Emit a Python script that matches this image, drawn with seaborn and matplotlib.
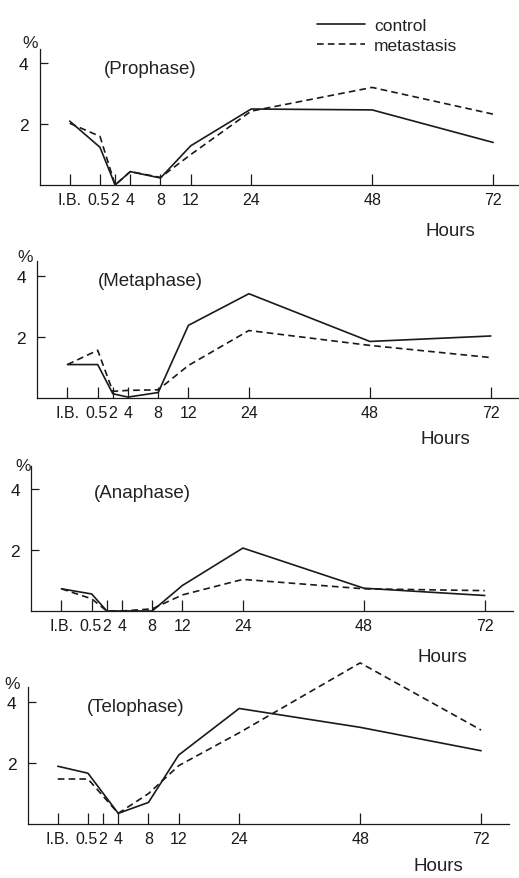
import matplotlib
matplotlib.use('Agg')
import matplotlib.pyplot as plt
import matplotlib.transforms as mtransforms
import numpy as np
import pandas as pd
import seaborn as sns

# Eje de horas con escala propia (I.B. antes de 0.5 h)
hour_labels = ['I.B.', '0.5', '2', '4', '8', '12', '24', '48', '72']
hour_pos = [-6, 0, 3, 6, 12, 18, 30, 54, 78]

phases = ['Prophase', 'Metaphase', 'Anaphase', 'Telophase']

prophase_control = [2.1, 1.24, 0.0, 0.44, 0.23, 1.29, 2.5, 2.47, 1.4]
prophase_metastasis = [2.03, 1.6, 0.0, 0.44, 0.25, 1.0, 2.43, 3.21, 2.33]

metaphase_control = [1.1, 1.1, 0.14, 0.03, 0.18, 2.39, 3.43, 1.86, 2.04]
metaphase_metastasis = [1.1, 1.57, 0.22, 0.25, 0.27, 1.07, 2.22, 1.73, 1.33]

anaphase_control = [0.73, 0.56, 0.0, 0.0, 0.0, 0.84, 2.07, 0.75, 0.51]
anaphase_metastasis = [0.73, 0.4, 0.0, 0.0, 0.07, 0.53, 1.04, 0.73, 0.67]

telophase_control = [1.9, 1.67, np.nan, 0.35, 0.71, 2.27, 3.8, 3.18, 2.41]
telophase_metastasis = [1.48, 1.48, np.nan, 0.35, 1.0, 1.92, 3.0, 5.3, 3.09]

series = {
    'Prophase': (prophase_control, prophase_metastasis),
    'Metaphase': (metaphase_control, metaphase_metastasis),
    'Anaphase': (anaphase_control, anaphase_metastasis),
    'Telophase': (telophase_control, telophase_metastasis),
}

rows = []
for phase, (ctrl, meta) in series.items():
    for pos, c, m in zip(hour_pos, ctrl, meta):
        rows.append((phase, pos, c, 'control'))
        rows.append((phase, pos, m, 'metastasis'))
df = pd.DataFrame(rows, columns=['phase', 'pos', 'pct', 'group'])

sns.set_theme(style='white')
plt.rcParams['font.family'] = ['Liberation Sans', 'DejaVu Sans']
plt.rcParams['text.color'] = '#222222'

W, H = 519, 879
fig = plt.figure(figsize=(W / 100, H / 100), dpi=100)

PX_X, PX_Y = 5.04, 30.4
# (x de 0.5 h, y del cero, tope del eje y, tope de la espina) en píxeles
layout = [
    (100.0, 186, 4.6, 4.47),
    (97.7, 399, 4.6, 4.5),
    (91.7, 612, 4.9, 4.77),
    (88.0, 825, 5.6, 4.5),
]
titles = [(150, 70), (150, 282), (142, 493), (136, 708)]
pct_pos = [(30, 43), (25, 257), (23, 467), (12, 685)]
hours_pos = [(450, 232), (445, 440), (442, 658), (438, 867)]

xmin, xmax = -12, 83.5
for i, phase in enumerate(phases):
    x0, y0, ytop, spine_top = layout[i]
    left = x0 + xmin * PX_X
    width = (xmax - xmin) * PX_X
    height = ytop * PX_Y
    ax = fig.add_axes([left / W, 1 - y0 / H, width / W, height / H])
    ax.patch.set_alpha(0)
    sub = df[df['phase'] == phase].dropna()
    sns.lineplot(data=sub, x='pos', y='pct', style='group',
                 dashes={'control': '', 'metastasis': (4, 2.5)},
                 color='#1a1a1a', linewidth=1.2, ax=ax, legend=(i == 0),
                 clip_on=False)
    ax.set_xlim(xmin, xmax)
    ax.set_ylim(0, ytop)
    ax.set_xticks(hour_pos)
    ax.set_xticklabels(hour_labels)
    ax.set_yticks([2, 4])
    ax.set_yticklabels(['2', '4'])
    ax.set_xlabel('')
    ax.set_ylabel('')
    ax.tick_params(axis='x', direction='in', length=8, width=0.9, pad=5,
                   labelsize=11.5, colors='#1a1a1a', bottom=True)
    ax.tick_params(axis='y', direction='in', length=6, width=0.9, pad=8,
                   labelsize=12.5, colors='#1a1a1a', left=True)
    # "0.5" queda muy pegado al "2": se corre un poco a la izquierda
    lab = ax.get_xticklabels()[1]
    lab.set_transform(lab.get_transform() + mtransforms.ScaledTranslation(
        -1.5 / 100, 0, fig.dpi_scale_trans))
    for s in ['top', 'right']:
        ax.spines[s].set_visible(False)
    ax.spines['left'].set_bounds(0, spine_top)
    for s in ['left', 'bottom']:
        ax.spines[s].set_color('#1a1a1a')
        ax.spines[s].set_linewidth(0.9)

    tx, ty = titles[i]
    fig.text(tx / W, 1 - ty / H, f'({phase})', ha='center', va='center',
             fontsize=13.5)
    px, py = pct_pos[i]
    fig.text(px / W, 1 - py / H, '%', ha='center', va='center', fontsize=12.5)
    hx, hy = hours_pos[i]
    fig.text(hx / W, 1 - hy / H, 'Hours', ha='center', va='center', fontsize=13.5)

    if i == 0:
        leg = ax.legend(loc='upper left', bbox_to_anchor=(301 / W, 1 - 3 / H),
                        bbox_transform=fig.transFigure, frameon=False,
                        handlelength=2.8, labelspacing=0.3, handletextpad=0.5,
                        fontsize=12.5, title=None)
        for line in leg.get_lines():
            line.set_color('#1a1a1a')
            line.set_linewidth(1.2)

fig.savefig('out.png', dpi=100, facecolor='white')
